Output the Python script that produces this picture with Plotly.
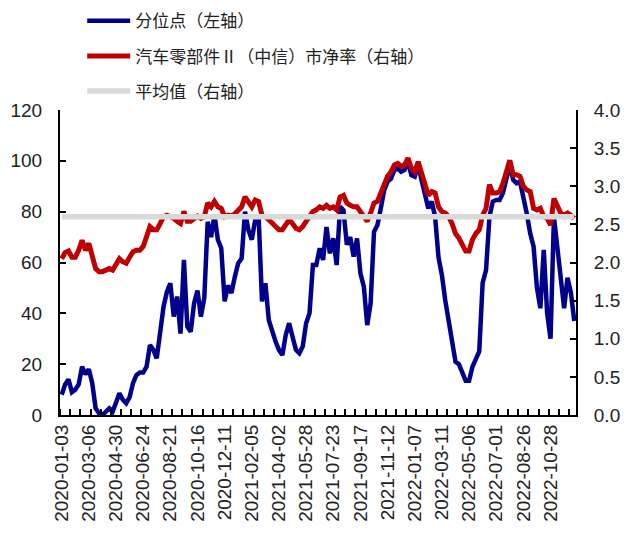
import plotly.graph_objects as go

dates = [
    "2020-01-03","2020-01-10","2020-01-17","2020-01-23","2020-02-07","2020-02-14","2020-02-21","2020-02-28",
    "2020-03-06","2020-03-13","2020-03-20","2020-03-27","2020-04-03","2020-04-10","2020-04-17","2020-04-24",
    "2020-04-30","2020-05-08","2020-05-15","2020-05-22","2020-05-29","2020-06-05","2020-06-12","2020-06-19",
    "2020-06-24","2020-07-03","2020-07-10","2020-07-17","2020-07-24","2020-07-31","2020-08-07","2020-08-14",
    "2020-08-21","2020-08-28","2020-09-04","2020-09-11","2020-09-18","2020-09-25","2020-09-30","2020-10-09",
    "2020-10-16","2020-10-23","2020-10-30","2020-11-06","2020-11-13","2020-11-20","2020-11-27","2020-12-04",
    "2020-12-11","2020-12-18","2020-12-25","2020-12-31","2021-01-08","2021-01-15","2021-01-22","2021-01-29",
    "2021-02-05","2021-02-10","2021-02-19","2021-02-26","2021-03-05","2021-03-12","2021-03-19","2021-03-26",
    "2021-04-02","2021-04-09","2021-04-16","2021-04-23","2021-04-30","2021-05-07","2021-05-14","2021-05-21",
    "2021-05-28","2021-06-04","2021-06-11","2021-06-18","2021-06-25","2021-07-02","2021-07-09","2021-07-16",
    "2021-07-23","2021-07-30","2021-08-06","2021-08-13","2021-08-20","2021-08-27","2021-09-03","2021-09-10",
    "2021-09-17","2021-09-24","2021-09-30","2021-10-08","2021-10-15","2021-10-22","2021-10-29","2021-11-05",
    "2021-11-12","2021-11-19","2021-11-26","2021-12-03","2021-12-10","2021-12-17","2021-12-24","2021-12-31",
    "2022-01-07","2022-01-14","2022-01-21","2022-01-28","2022-02-11","2022-02-18","2022-02-25","2022-03-04",
    "2022-03-11","2022-03-18","2022-03-25","2022-04-01","2022-04-08","2022-04-15","2022-04-22","2022-04-29",
    "2022-05-06","2022-05-13","2022-05-20","2022-05-27","2022-06-02","2022-06-10","2022-06-17","2022-06-24",
    "2022-07-01","2022-07-08","2022-07-15","2022-07-22","2022-07-29","2022-08-05","2022-08-12","2022-08-19",
    "2022-08-26","2022-09-02","2022-09-09","2022-09-16","2022-09-23","2022-09-30","2022-10-14","2022-10-21",
    "2022-10-28","2022-11-04","2022-11-11","2022-11-18","2022-11-25","2022-12-02","2022-12-09","2022-12-16",
]

tick_labels = [
    "2020-01-03","2020-03-06","2020-04-30","2020-06-24","2020-08-21","2020-10-16","2020-12-11",
    "2021-02-05","2021-04-02","2021-05-28","2021-07-23","2021-09-17","2021-11-12","2022-01-07",
    "2022-03-11","2022-05-06","2022-07-01","2022-08-26","2022-10-28",
]

percentile = [
    8, 12, 14, 9, 10, 12, 19, 16, 18, 12.5, 2.6, 0.7, 0, 1.3, 2.6, 1.3, 5, 8.5, 6, 4.6,
    7, 12.5, 15.7, 16.7, 16.7, 19, 27.5, 25.6, 22.3, 32, 42.6, 48.5, 51.8, 38.7, 46.6, 32, 61, 34.8, 32.8, 44,
    49, 38.7, 46, 76, 70, 78.7, 69, 65.6, 44.7, 51, 48, 54.4, 59.7, 61.6, 80, 72.8, 69, 76.7, 78.7, 44.7,
    51.9, 37.4, 32.8, 28.9, 25.6, 23.6, 31.5, 36.1, 30.8, 25.6, 24.3, 26.9, 36.1, 40, 59, 59, 65.6, 61, 74, 63.6,
    69.5, 59, 82, 80.6, 67, 70, 62.3, 69.5, 55.7, 50.5, 35.4, 44, 72.1, 74.7, 81.3, 88.5, 91.8, 93, 96.4, 97,
    95.7, 96.4, 99.7, 94.4, 93.8, 98.4, 92.5, 86, 81.3, 84, 78, 62, 55, 45, 37, 30, 21, 20, 17, 13.5,
    13.5, 19, 22, 25, 52, 57, 78, 84, 84.6, 84.6, 87.4, 93.8, 98.4, 92.5, 91.2, 91.8, 86, 79.3, 71.5, 66.3,
    50, 42, 65, 40, 30, 78, 66, 53, 42, 54, 48, 37,
]

pb = [
    2.05, 2.13, 2.15, 2.07, 2.07, 2.16, 2.29, 2.16, 2.25, 2.07, 1.92, 1.88, 1.88, 1.90, 1.92, 1.90, 1.97, 2.05, 2.01, 1.99,
    2.07, 2.14, 2.16, 2.16, 2.21, 2.32, 2.47, 2.43, 2.43, 2.51, 2.60, 2.62, 2.60, 2.58, 2.54, 2.51, 2.67, 2.54, 2.54, 2.58,
    2.61, 2.58, 2.60, 2.78, 2.73, 2.80, 2.73, 2.71, 2.60, 2.62, 2.61, 2.64, 2.69, 2.73, 2.86, 2.78, 2.73, 2.82, 2.80, 2.62,
    2.60, 2.56, 2.51, 2.47, 2.43, 2.43, 2.49, 2.56, 2.51, 2.45, 2.43, 2.47, 2.54, 2.60, 2.67, 2.69, 2.73, 2.71, 2.75, 2.71,
    2.73, 2.69, 2.86, 2.88, 2.78, 2.75, 2.73, 2.73, 2.67, 2.62, 2.54, 2.65, 2.78, 2.80, 2.91, 3.04, 3.13, 3.19, 3.28, 3.30,
    3.26, 3.28, 3.37, 3.24, 3.19, 3.32, 3.17, 3.00, 2.88, 2.93, 2.91, 2.73, 2.67, 2.65, 2.60, 2.51, 2.38, 2.32, 2.25, 2.15,
    2.15, 2.30, 2.38, 2.43, 2.62, 2.71, 3.02, 2.91, 2.91, 2.93, 3.04, 3.19, 3.34, 3.15, 3.15, 3.13, 3.00, 2.95, 2.93, 2.71,
    2.69, 2.71, 2.60, 2.58, 2.49, 2.84, 2.75, 2.65, 2.62, 2.65, 2.62, 2.58,
]

mean_pb = 2.6

names = ["分位点（左轴）", "汽车零部件Ⅱ（中信）市净率（右轴）", "平均值（右轴）"]
colors = ["#00008C", "#C00000", "#D9D9D9"]

x = list(range(len(dates)))
tickvals = [dates.index(t) for t in tick_labels]

fig = go.Figure()
fig.add_trace(go.Scatter(x=x, y=percentile, mode="lines", name=names[0], legendgroup="a",
                         line=dict(color=colors[0], width=4.5), yaxis="y"))
fig.add_trace(go.Scatter(x=x, y=pb, mode="lines", name=names[1], legendgroup="b",
                         line=dict(color=colors[1], width=5), yaxis="y2"))
fig.add_trace(go.Scatter(x=x, y=[mean_pb] * len(dates), mode="lines", name=names[2], legendgroup="c",
                         line=dict(color=colors[2], width=5.5), yaxis="y2"))

tickfont = dict(family="Liberation Sans, Arial, sans-serif", size=19, color="#222")

fig.update_layout(
    width=627, height=538,
    margin=dict(l=60, r=51, t=110, b=123, autoexpand=False),
    paper_bgcolor="white", plot_bgcolor="white",
    showlegend=True,
    legend=dict(x=0.043, y=1.35, xanchor="left", yanchor="top", orientation="v",
                traceorder="grouped", tracegroupgap=10, itemwidth=43,
                font=dict(family="Noto Sans CJK SC", size=17, color="#222"),
                bgcolor="rgba(0,0,0,0)"),
    xaxis=dict(range=[-0.5, len(dates) - 0.5], tickmode="array", tickvals=tickvals, ticktext=tick_labels,
               tickangle=-90, ticks="", showgrid=False, zeroline=False, automargin=False,
               showline=True, linecolor="black", linewidth=2, tickfont=tickfont,
               minor=dict(ticks="inside", tick0=-0.5, dtick=3, ticklen=6, tickcolor="black", tickwidth=1.5,
                          showgrid=False)),
    yaxis=dict(range=[0, 120], dtick=20, ticks="inside", ticklen=6, tickwidth=1.5, tickcolor="black",
               showgrid=False, zeroline=False, showline=True, linecolor="black", linewidth=2,
               tickfont=tickfont, ticklabelstandoff=12, automargin=False),
    yaxis2=dict(range=[0, 4], dtick=0.5, tickformat=".1f", overlaying="y", side="right",
                ticks="inside", ticklen=6, tickwidth=1.5, tickcolor="black",
                showgrid=False, zeroline=False, showline=True, linecolor="black", linewidth=2,
                tickfont=tickfont, ticklabelstandoff=12, automargin=False),
)

fig.write_html("out.html", config={"displayModeBar": False},
               post_script="document.body.style.margin='0';document.body.style.padding='0';")
